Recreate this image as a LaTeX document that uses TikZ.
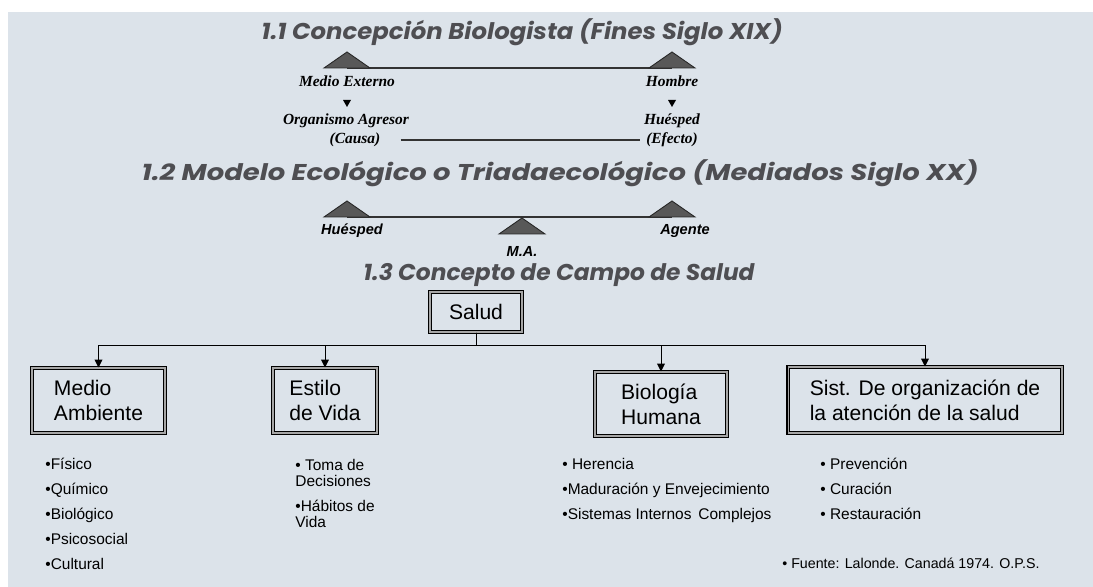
\documentclass[tikz,border=0pt]{standalone}
\usepackage{fontspec}
\setmainfont{Liberation Sans}
\newfontfamily\titlefont{Poppins}
\newfontfamily\oldfont{Liberation Serif}
\usetikzlibrary{arrows.meta}
\definecolor{bgpanel}{RGB}{220,227,234}
\definecolor{titlegray}{RGB}{78,78,82}
\definecolor{peakgray}{RGB}{88,88,88}
\newcommand{\stretchtitle}[2]{\scalebox{#1}[1]{#2}}

\begin{document}
\begin{tikzpicture}[
		x=0.02cm, y=-0.02cm,
		titlenode/.style={font=\titlefont\bfseries\itshape\fontsize{13}{15}\selectfont, text=titlegray, inner sep=0},
		oldlabel/.style={font=\oldfont\bfseries\itshape\fontsize{8.8}{10}\selectfont, inner sep=0},
		triadlabel/.style={font=\bfseries\itshape\fontsize{8.3}{10}\selectfont, inner sep=0},
		boxnode/.style={draw=black, line width=0.6pt, double=gray!70, double distance=0.6pt, align=left, font=\fontsize{12}{14.2}\selectfont, inner sep=0},
		listnode/.style={font=\fontsize{8.8}{9.6}\selectfont, anchor=base west, inner sep=0, align=left},
		peak/.pic={\filldraw[fill=peakgray, draw=black!85, line width=0.5pt] (-23,0) -- (0,-16) -- (23,0) -- cycle;},
		pointer/.pic={\fill (-4,0) -- (4,0) -- (0,7) -- cycle;},
		baseline/.style={draw=black!80, line width=0.6pt},
		linkline/.style={line width=0.5pt, -{Triangle[width=4.5pt,length=4.5pt]}}
		]
		% canvas
		\useasboundingbox (0,0) rectangle (1093,587);
		\fill[white] (0,0) rectangle (1093,587);
		\fill[bgpanel] (8,12) rectangle (1093,587);

		% 1.1
		\node[titlenode] (title1) at (522,32) {\stretchtitle{1.066}{1.1 Concepción Biologista (Fines Siglo XIX)}};
		\coordinate (pA) at (347,68);
		\coordinate (pB) at (672,68);
		\draw[baseline] (pA) -- (pB);
		\pic at (pA) {peak};
		\pic at (pB) {peak};
		\node[oldlabel] (medext) at (347,81) {Medio Externo};
		\node[oldlabel] (hombre) at (672,81) {Hombre};
		\pic at (347,100) {pointer};
		\pic at (672,100) {pointer};
		\node[oldlabel] (organismo) at (346,121) {Organismo Agresor};
		\node[oldlabel] (causa) at (355,140) {(Causa)};
		\node[oldlabel] (huesped1) at (672,121) {Huésped};
		\node[oldlabel] (efecto) at (672,140) {(Efecto)};
		\draw[baseline, shorten <=0.4cm, shorten >=0.12cm] (causa.east) -- (efecto.west);

		% 1.2
		\node[titlenode] (title2) at (560,173) {\stretchtitle{1.2}{1.2 Modelo Ecológico o Triadaecológico (Mediados Siglo XX)}};
		\coordinate (pC) at (347,217);
		\coordinate (pD) at (672,217);
		\coordinate (pE) at (522,234);
		\draw[baseline] (pC) -- (pD);
		\pic at (pC) {peak};
		\pic at (pD) {peak};
		\pic at (pE) {peak};
		\node[triadlabel] (huesped2) at (352,231) {Huésped};
		\node[triadlabel] (agente) at (685,231) {Agente};
		\node[triadlabel] (ma) at (522,251) {M.A.};

		% 1.3
		\node[titlenode] (title3) at (559,275) {\stretchtitle{1.02}{1.3 Concepto de Campo de Salud}};
		\node[boxnode, minimum width=1.84cm, minimum height=0.8cm] (salud) at (476,312) {Salud};
		\node[boxnode, minimum width=2.66cm, minimum height=1.3cm] (medio) at (98.5,400.5) {Medio\\Ambiente};
		\node[boxnode, minimum width=2.08cm, minimum height=1.3cm] (estilo) at (325,400.5) {Estilo\\de Vida};
		\node[boxnode, minimum width=2.64cm, minimum height=1.28cm] (bio) at (661,404) {Biología\\Humana};
		\node[boxnode, minimum width=5.48cm, minimum height=1.32cm] (sist) at (925,400) {Sist. De organización de\\la atención de la salud};
		\coordinate (fork) at (476,345);
		\foreach \b in {medio,estilo,bio,sist}
			\draw[linkline] (salud.south) |- (fork -| \b.north) -- (\b.north);

		% lists
		\node[listnode] (fisico) at (45,470) {•Físico};
		\node[listnode] (quimico) at (45,495) {•Químico};
		\node[listnode] (biologico) at (45,520) {•Biológico};
		\node[listnode] (psico) at (45,545) {•Psicosocial};
		\node[listnode] (cultural) at (45,570) {•Cultural};
		\node[listnode] (toma) at (295,487) {• Toma de\\Decisiones};
		\node[listnode] (habitos) at (295,528) {•Hábitos de\\Vida};
		\node[listnode] (herencia) at (562,470) {• Herencia};
		\node[listnode] (maduracion) at (562,495) {•Maduración y Envejecimiento};
		\node[listnode] (sistemas) at (562,520) {•Sistemas Internos\, Complejos};
		\node[listnode] (prevencion) at (820,470) {• Prevención};
		\node[listnode] (curacion) at (820,495) {• Curación};
		\node[listnode] (restauracion) at (820,520) {• Restauración};
		\node[listnode, font=\fontsize{8.1}{9.6}\selectfont] (fuente) at (782,569) {• Fuente: Lalonde. Canadá 1974. O.P.S.};
	\end{tikzpicture}
\end{document}
